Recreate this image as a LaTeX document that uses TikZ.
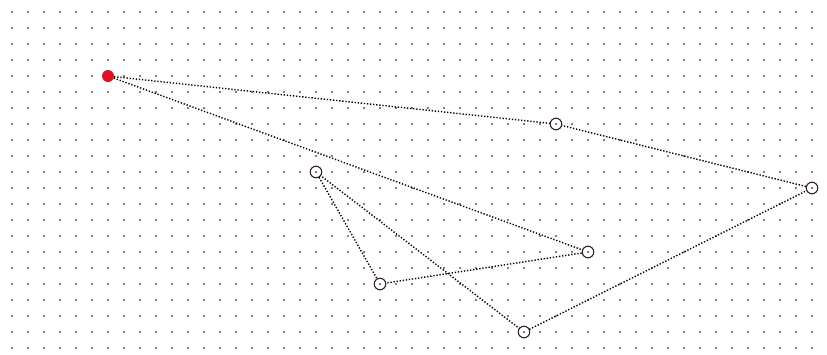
\documentclass[tikz,border=0pt]{standalone}
\begin{document}
\begin{tikzpicture}[x=1pt,y=-1pt,
  griddot/.style={fill=black!50,draw=none},
  vtx/.style={circle,draw={rgb,255:red,60;green,30;blue,40},line width=1.1pt,minimum size=11.5pt,inner sep=0pt,fill=white},
  start/.style={circle,fill={rgb,255:red,225;green,15;blue,40},draw=none,minimum size=12pt,inner sep=0pt},
  edge/.style={draw=black,line width=1.4pt,dash pattern=on 1.3pt off 1.8pt}]
\useasboundingbox (0,0) rectangle (827,354);
\fill[white] (0,0) rectangle (827,354);
\foreach \i in {0,...,50}{
  \foreach \j in {0,...,21}{
    \fill[griddot] (12+16*\i-0.8,12+16*\j-0.8) rectangle ++(1.6,1.6);
  }
}
\coordinate (pa) at (108,76);
\coordinate (pb) at (556,124);
\coordinate (pc) at (812,188);
\coordinate (pd) at (524,332);
\coordinate (pe) at (316,172);
\coordinate (pf) at (380,284);
\coordinate (pg) at (588,252);
\draw[edge] (pa) -- (pb) -- (pc) -- (pd) -- (pe) -- (pf) -- (pg) -- cycle;
\node[start] (a) at (pa) {};
\node[vtx] (b) at (pb) {};
\node[vtx] (c) at (pc) {};
\node[vtx] (d) at (pd) {};
\node[vtx] (e) at (pe) {};
\node[vtx] (f) at (pf) {};
\node[vtx] (g) at (pg) {};
\foreach \n in {b,c,d,e,f,g}{\fill[black!80] (\n) circle (1pt);}
\end{tikzpicture}
\end{document}
